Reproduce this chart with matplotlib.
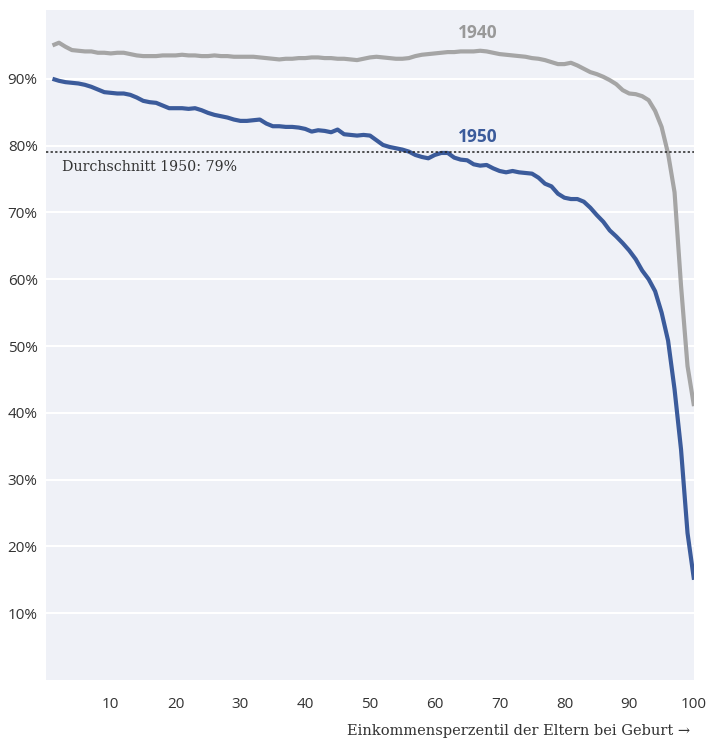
import numpy as np
import matplotlib.pyplot as plt

# Einkommensperzentil der Eltern (1..100)
perzentil = np.arange(1, 101)

anteil_1940 = [95.0, 95.4, 94.8, 94.3, 94.2, 94.1, 94.1, 93.9, 93.9, 93.8,
               93.9, 93.9, 93.7, 93.5, 93.4, 93.4, 93.4, 93.5, 93.5, 93.5,
               93.6, 93.5, 93.5, 93.4, 93.4, 93.5, 93.4, 93.4, 93.3, 93.3,
               93.3, 93.3, 93.2, 93.1, 93.0, 92.9, 93.0, 93.0, 93.1, 93.1,
               93.2, 93.2, 93.1, 93.1, 93.0, 93.0, 92.9, 92.8, 93.0, 93.2,
               93.3, 93.2, 93.1, 93.0, 93.0, 93.1, 93.4, 93.6, 93.7, 93.8,
               93.9, 94.0, 94.0, 94.1, 94.1, 94.1, 94.2, 94.1, 93.9, 93.7,
               93.6, 93.5, 93.4, 93.3, 93.1, 93.0, 92.8, 92.5, 92.2, 92.2,
               92.4, 92.0, 91.5, 91.0, 90.7, 90.3, 89.8, 89.2, 88.3, 87.8,
               87.7, 87.4, 86.8, 85.2, 82.8, 78.8, 73.0, 59.0, 47.0, 41.0]

anteil_1950 = [90.0, 89.7, 89.5, 89.4, 89.3, 89.1, 88.8, 88.4, 88.0, 87.9,
               87.8, 87.8, 87.6, 87.2, 86.7, 86.5, 86.4, 86.0, 85.6, 85.6,
               85.6, 85.5, 85.6, 85.3, 84.9, 84.6, 84.4, 84.2, 83.9, 83.7,
               83.7, 83.8, 83.9, 83.3, 82.9, 82.9, 82.8, 82.8, 82.7, 82.5,
               82.1, 82.3, 82.2, 82.0, 82.4, 81.7, 81.6, 81.5, 81.6, 81.5,
               80.8, 80.1, 79.8, 79.6, 79.4, 79.1, 78.6, 78.3, 78.1, 78.6,
               78.9, 78.9, 78.2, 77.9, 77.8, 77.2, 77.0, 77.1, 76.6, 76.2,
               76.0, 76.2, 76.0, 75.9, 75.8, 75.2, 74.3, 73.9, 72.8, 72.2,
               72.0, 72.0, 71.6, 70.7, 69.6, 68.6, 67.3, 66.4, 65.4, 64.3,
               63.0, 61.3, 60.0, 58.2, 55.0, 50.8, 43.5, 34.5, 22.0, 15.0]

durchschnitt_1950 = 79
x_ticks = [10, 20, 30, 40, 50, 60, 70, 80, 90, 100]
y_ticks = [10, 20, 30, 40, 50, 60, 70, 80, 90]

blau = '#3b5b9b'
grau = '#a5a5a5'
plt.rcParams['font.family'] = ['Open Sans', 'DejaVu Sans']

fig = plt.figure(figsize=(7.21, 7.38), dpi=100)
ax = fig.add_axes([46/721, 58/738, 648/721, 670/738])
ax.set_facecolor('#eff1f7')

for y in y_ticks:
    ax.axhline(y, color='white', lw=1.5, zorder=1)

ax.plot(perzentil, anteil_1940, color=grau, lw=3.0, zorder=3, solid_capstyle='butt')
ax.plot(perzentil, anteil_1950, color=blau, lw=3.0, zorder=4, solid_capstyle='butt')
ax.axhline(durchschnitt_1950, color='#222222', lw=1.1, ls=(0, (1.5, 1.5)), zorder=5)

ax.text(2.4, durchschnitt_1950 - 1.1, 'Durchschnitt 1950: 79%', fontsize=10.2,
        family=['DejaVu Serif'], color='#333333', va='top', ha='left')
ax.text(66.7, 96.8, '1940', fontsize=12.5, fontweight='bold', color='#999999',
        ha='center', va='center')
ax.text(66.7, 81.3, '1950', fontsize=12.5, fontweight='bold', color=blau,
        ha='center', va='center')

ax.set_xlim(0, 100)
ax.set_ylim(0, 100.3)
ax.set_xticks(x_ticks)
ax.set_xticklabels([str(v) for v in x_ticks])
ax.set_yticks(y_ticks)
ax.set_yticklabels([f'{v}%' for v in y_ticks])
ax.tick_params(length=0, labelsize=11, colors='#333333')
ax.tick_params(axis='x', pad=12)
ax.tick_params(axis='y', pad=6)
for s in ax.spines.values():
    s.set_visible(False)

fig.text(690/721, 1 - 731/738, 'Einkommensperzentil der Eltern bei Geburt \u2192',
         fontsize=10.5, family=['DejaVu Serif'], color='#333333', ha='right', va='center')

fig.savefig('out.png', dpi=100, facecolor='white')
